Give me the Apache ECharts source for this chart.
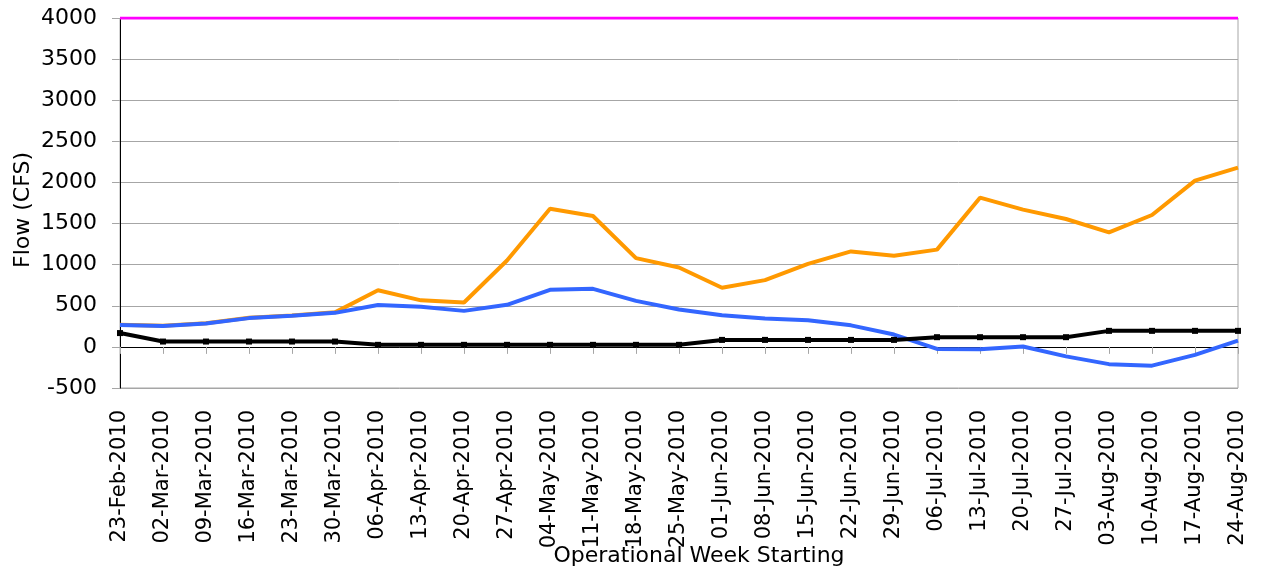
<!DOCTYPE html>
<html>
<head>
<meta charset="utf-8">
<title>Operational Week Flow</title>
<script src="https://cdn.jsdelivr.net/npm/echarts@6/dist/echarts.min.js"></script>
<style>
  html, body { margin: 0; padding: 0; background: #ffffff; }
  #chart { width: 1265px; height: 570px; }
</style>
</head>
<body>
<div id="chart"></div>
<script>
// Operational weeks (week starting dates)
const weeks = [
  '23-Feb-2010', '02-Mar-2010', '09-Mar-2010', '16-Mar-2010', '23-Mar-2010',
  '30-Mar-2010', '06-Apr-2010', '13-Apr-2010', '20-Apr-2010', '27-Apr-2010',
  '04-May-2010', '11-May-2010', '18-May-2010', '25-May-2010', '01-Jun-2010',
  '08-Jun-2010', '15-Jun-2010', '22-Jun-2010', '29-Jun-2010', '06-Jul-2010',
  '13-Jul-2010', '20-Jul-2010', '27-Jul-2010', '03-Aug-2010', '10-Aug-2010',
  '17-Aug-2010', '24-Aug-2010'
];

// Flow series, CFS
const limitFlow = [
  4000, 4000, 4000, 4000, 4000, 4000, 4000, 4000, 4000, 4000, 4000, 4000, 4000, 4000,
  4000, 4000, 4000, 4000, 4000, 4000, 4000, 4000, 4000, 4000, 4000, 4000, 4000
];
const orangeFlow = [
  270, 258, 288, 355, 382, 420, 688, 566, 540, 1050, 1680, 1592, 1080, 966,
  719, 812, 1010, 1161, 1108, 1183, 1815, 1669, 1555, 1392, 1604, 2022, 2180
];
const blueFlow = [
  265, 255, 284, 350, 378, 414, 510, 488, 438, 512, 694, 706, 560, 455,
  386, 345, 325, 262, 150, -25, -30, 5, -115, -210, -228, -97, 75
];
const blackFlow = [
  168, 65, 65, 65, 65, 65, 25, 25, 25, 25, 25, 25, 25, 25,
  85, 85, 85, 85, 85, 118, 118, 118, 118, 195, 195, 195, 195
];

// Y axis scale
const yMin = -500;
const yMax = 4000;
const yStep = 500;

const FONT = 'DejaVu Sans';
const chart = echarts.init(document.getElementById('chart'), null, { renderer: 'canvas' });

chart.setOption({
  backgroundColor: '#ffffff',
  animation: false,
  grid: {
    left: 120, top: 18, width: 1118, height: 370,
    containLabel: false,
    outerBoundsMode: 'none',
    show: true, borderColor: '#a6a6a6', borderWidth: 1, backgroundColor: 'transparent'
  },
  xAxis: {
    type: 'category',
    data: weeks,
    boundaryGap: false,
    name: 'Operational Week Starting',
    nameLocation: 'middle',
    nameGap: 157,
    nameMoveOverlap: false,
    nameTextStyle: { fontFamily: FONT, fontSize: 22, color: '#000', padding: [0, 0, 0, 40] },
    axisLine: { show: true, lineStyle: { color: '#000', width: 1 } },
    axisTick: { show: true, alignWithLabel: true, length: 7, lineStyle: { color: '#a6a6a6' } },
    axisLabel: {
      rotate: 90, interval: 0, margin: 22,
      fontFamily: FONT, fontSize: 21, color: '#000'
    },
    splitLine: { show: false }
  },
  yAxis: {
    type: 'value',
    min: yMin, max: yMax, interval: yStep,
    name: 'Flow (CFS)',
    nameLocation: 'middle',
    nameGap: 86,
    nameMoveOverlap: false,
    nameTextStyle: { fontFamily: FONT, fontSize: 22, color: '#000', padding: [0, 14, 0, 0] },
    axisLine: { show: true, lineStyle: { color: '#000', width: 1 } },
    axisTick: { show: true, length: 8, lineStyle: { color: '#a6a6a6' } },
    axisLabel: {
      margin: 23, fontFamily: FONT, fontSize: 22, color: '#000',
      formatter: (v) => String(v)
    },
    splitLine: { show: true, lineStyle: { color: '#a6a6a6', width: 1 } }
  },
  series: [
    {
      type: 'line', data: limitFlow, symbol: 'none',
      lineStyle: { color: '#ff00ff', width: 3 }, z: 5
    },
    {
      type: 'line', data: orangeFlow, symbol: 'none',
      lineStyle: { color: '#ff9900', width: 4 }, z: 3
    },
    {
      type: 'line', data: blueFlow, symbol: 'none',
      lineStyle: { color: '#3366ff', width: 4 }, z: 4
    },
    {
      type: 'line', data: blackFlow, symbol: 'rect', symbolSize: 6, showSymbol: true,
      itemStyle: { color: '#000' },
      lineStyle: { color: '#000', width: 4 }, z: 6
    }
  ]
});
</script>
</body>
</html>
